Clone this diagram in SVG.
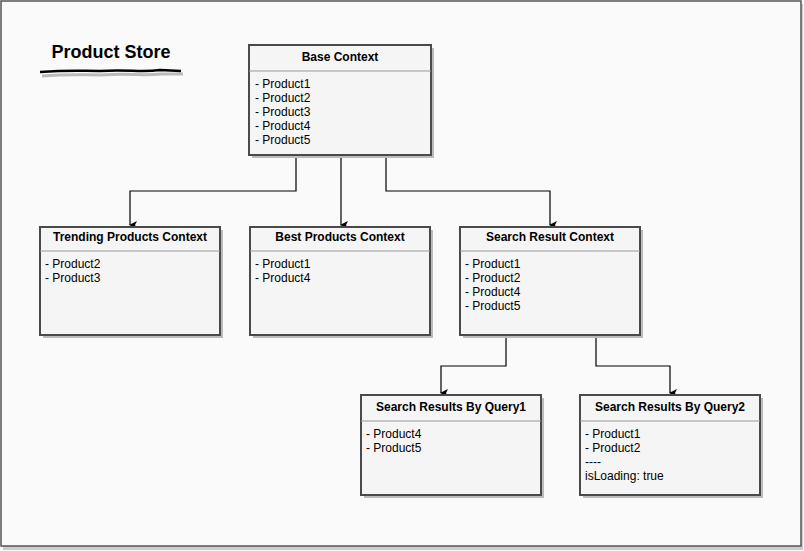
<svg xmlns="http://www.w3.org/2000/svg" width="804" height="551" viewBox="0 0 804 551">
<style>
.box{fill:#f5f5f5;stroke:#4a4a4a;stroke-width:2}
.sh{fill:#bbb}
.div{stroke:#999;stroke-width:1}
.t{font-family:"Liberation Sans",Arial,sans-serif;font-size:12px;font-weight:bold;fill:#000;text-anchor:middle}
.b{font-family:"Liberation Sans",Arial,sans-serif;font-size:12px;fill:#000}
.c{fill:none;stroke:#000;stroke-width:1.2}
</style>
<defs>
<marker id="ah" markerWidth="10" markerHeight="10" refX="5" refY="8" orient="auto" markerUnits="userSpaceOnUse" viewBox="0 0 10 10">
<path d="M1,1 L5,3 L9,1 L5,9 Z" fill="#000"/>
</marker>
</defs>
<rect x="0" y="0" width="804" height="551" fill="#fafafa"/>
<rect x="3" y="4" width="800" height="546" fill="#ccc"/>
<rect x="1" y="1" width="800" height="545" fill="#fafafa" stroke="#555" stroke-width="1.5"/>
<g id="title">
<text x="111" y="58" font-family="Liberation Sans,Arial,sans-serif" font-size="18" font-weight="bold" text-anchor="middle">Product Store</text>
<path d="M41,74 C70,72 80,73 100,73 C130,71 140,74 160,72 L182,72" fill="none" stroke="#bbb" stroke-width="3" transform="translate(1,2)"/>
<path d="M40,72 C70,70 80,71 100,71 C130,69 140,73 160,70 L181,71" fill="none" stroke="#000" stroke-width="2.5"/>
</g>
<g id="connectors">
<path class="c" d="M296,155 V191 H130 V225" marker-end="url(#ah)"/>
<path class="c" d="M341,155 V225" marker-end="url(#ah)"/>
<path class="c" d="M386,155 V191 H550 V225" marker-end="url(#ah)"/>
<path class="c" d="M506,336 V366 H441 V393" marker-end="url(#ah)"/>
<path class="c" d="M596,336 V366 H670 V393" marker-end="url(#ah)"/>
</g>
<g id="base">
<rect class="sh" x="252" y="48" width="182" height="110"/>
<rect class="box" x="249" y="45" width="182" height="110"/>
<line class="div" x1="249" y1="71" x2="431" y2="71"/>
<text class="t" x="340" y="61">Base Context</text>
<text class="b" x="255" y="88">- Product1</text>
<text class="b" x="255" y="102">- Product2</text>
<text class="b" x="255" y="116">- Product3</text>
<text class="b" x="255" y="130">- Product4</text>
<text class="b" x="255" y="144">- Product5</text>
</g>
<g id="trending">
<rect class="sh" x="43" y="230" width="180" height="108"/>
<rect class="box" x="40" y="227" width="180" height="108"/>
<line class="div" x1="40" y1="251" x2="220" y2="251"/>
<text class="t" x="130" y="241">Trending Products Context</text>
<text class="b" x="45" y="268">- Product2</text>
<text class="b" x="45" y="282">- Product3</text>
</g>
<g id="best">
<rect class="sh" x="253" y="230" width="180" height="108"/>
<rect class="box" x="250" y="227" width="180" height="108"/>
<line class="div" x1="250" y1="251" x2="430" y2="251"/>
<text class="t" x="340" y="241">Best Products Context</text>
<text class="b" x="255" y="268">- Product1</text>
<text class="b" x="255" y="282">- Product4</text>
</g>
<g id="search">
<rect class="sh" x="463" y="230" width="180" height="108"/>
<rect class="box" x="460" y="227" width="180" height="108"/>
<line class="div" x1="460" y1="251" x2="640" y2="251"/>
<text class="t" x="550" y="241">Search Result Context</text>
<text class="b" x="465" y="268">- Product1</text>
<text class="b" x="465" y="282">- Product2</text>
<text class="b" x="465" y="296">- Product4</text>
<text class="b" x="465" y="310">- Product5</text>
</g>
<g id="query1">
<rect class="sh" x="364" y="398" width="180" height="100"/>
<rect class="box" x="361" y="395" width="180" height="100"/>
<line class="div" x1="361" y1="421" x2="541" y2="421"/>
<text class="t" x="451" y="411">Search Results By Query1</text>
<text class="b" x="366" y="438">- Product4</text>
<text class="b" x="366" y="452">- Product5</text>
</g>
<g id="query2">
<rect class="sh" x="583" y="398" width="180" height="100"/>
<rect class="box" x="580" y="395" width="180" height="100"/>
<line class="div" x1="580" y1="421" x2="760" y2="421"/>
<text class="t" x="670" y="411">Search Results By Query2</text>
<text class="b" x="585" y="438">- Product1</text>
<text class="b" x="585" y="452">- Product2</text>
<text class="b" x="585" y="466">----</text>
<text class="b" x="585" y="480">isLoading: true</text>
</g>
</svg>
